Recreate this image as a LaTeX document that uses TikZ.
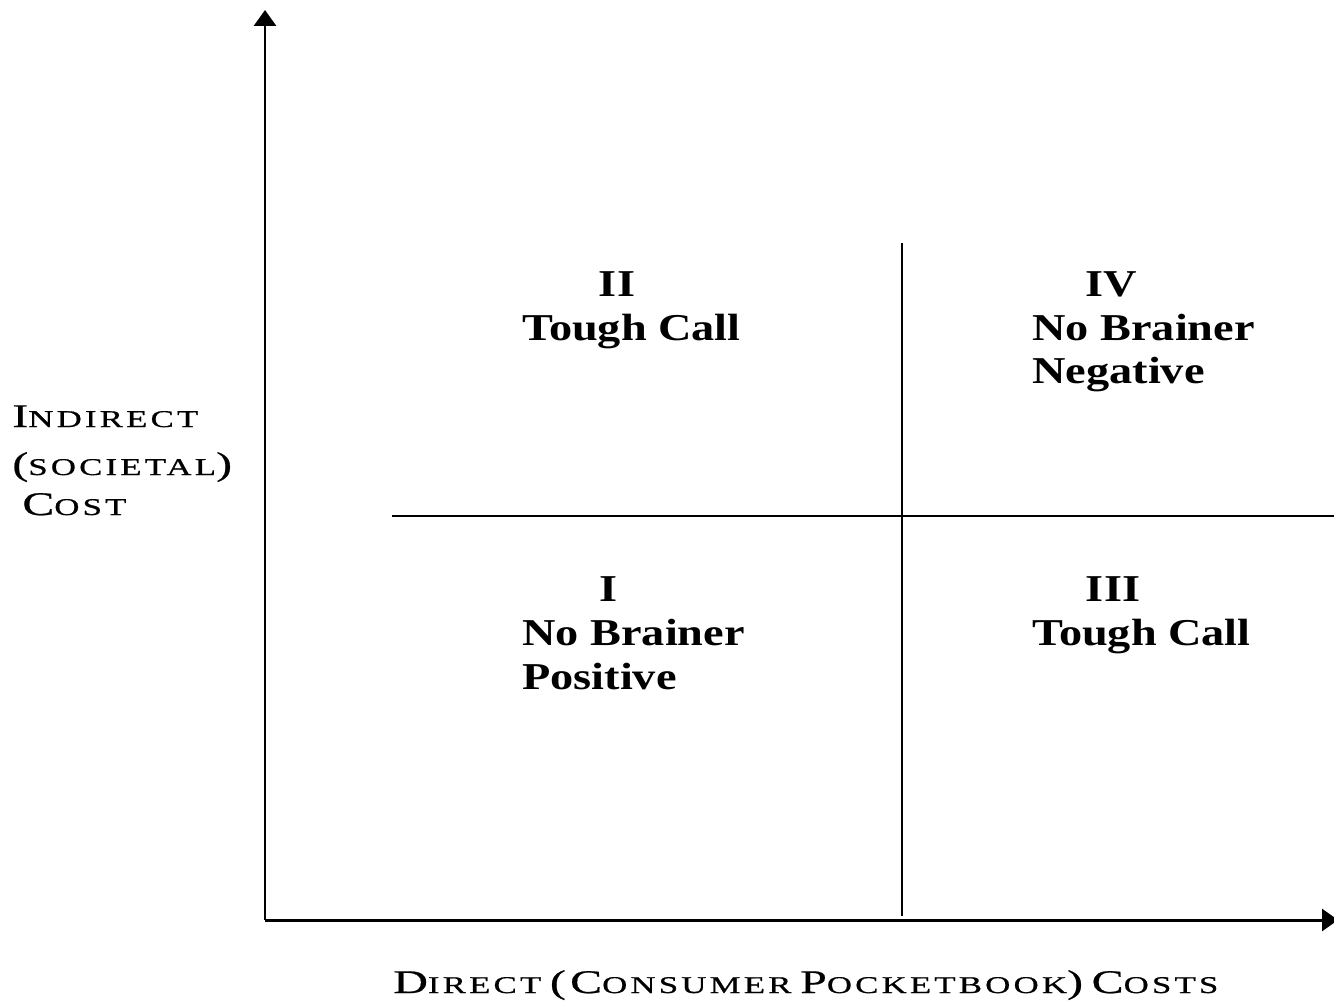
\documentclass[tikz,border=0pt]{standalone}
\usepackage{fontspec}
\setmainfont{Liberation Serif}
\newfontfamily\quadfont[FakeStretch=1.22]{Liberation Serif}
\newfontfamily\axisfont[FakeStretch=1.45,LetterSpace=13,FakeBold=0.6]{Liberation Serif}
\usetikzlibrary{arrows.meta}

% fake small caps: big initial, small rest
\newcommand{\capbig}[1]{{\fontsize{18.8}{20}\selectfont #1}}
\newcommand{\capsmall}[1]{{\fontsize{13.7}{15}\selectfont #1}}

\begin{document}
\begin{tikzpicture}[
  x=0.02cm,y=-0.02cm,
  axis/.style={line width=1.7pt,-{Triangle[width=0.44cm,length=0.32cm]}},
  divider/.style={line width=1.2pt},
  quad/.style={anchor=base west,inner sep=0pt,
    font=\quadfont\bfseries\fontsize{21.6}{25}\selectfont},
  numeral/.style={quad,anchor=base},
  axislabel/.style={anchor=base west,inner sep=0pt,font=\axisfont}
]
\useasboundingbox (0,0) rectangle (1334,1004);

% axes
\coordinate (origin) at (265,920);
\coordinate (ytop) at (265,10);
\coordinate (xend) at (1338,920);
\draw[axis] (origin) -- (ytop);
\draw[axis] (origin) -- (xend);

% quadrant dividers
\coordinate (vtop) at (902,243);
\coordinate (vbot) at (902,916);
\coordinate (hleft) at (392,516);
\coordinate (hright) at (1334,516);
\draw[divider] (vtop) -- (vbot);
\draw[divider] (hleft) -- (hright);

% quadrant II
\node[numeral] (numII) at (617,296) {II};
\node[quad] (toughII) at (522,340) {Tough Call};

% quadrant IV
\node[numeral] (numIV) at (1111,296) {IV};
\node[quad] (brainerIV) at (1032,340) {No Brainer};
\node[quad] (negIV) at (1032,383) {Negative};

% quadrant I
\node[numeral] (numI) at (608,601) {I};
\node[quad] (brainerI) at (522,645) {No Brainer};
\node[quad] (posI) at (522,689) {Positive};

% quadrant III
\node[numeral] (numIII) at (1113,601) {III};
\node[quad] (toughIII) at (1032,645) {Tough Call};

% axis labels
\node[axislabel] (ylabA) at (12,427) {\capbig{I}\capsmall{NDIRECT}};
\node[axislabel] (ylabB) at (12,475) {\capbig{(}\capsmall{SOCIETAL}\capbig{)}};
\node[axislabel] (ylabC) at (22,515) {\capbig{C}\capsmall{OST}};
\node[axislabel] (xlab) at (393,993)
  {\capbig{D}\capsmall{IRECT} \capbig{(C}\capsmall{ONSUMER}
   \capbig{P}\capsmall{OCKETBOOK}\capbig{)} \capbig{C}\capsmall{OSTS}};
\end{tikzpicture}
\end{document}
